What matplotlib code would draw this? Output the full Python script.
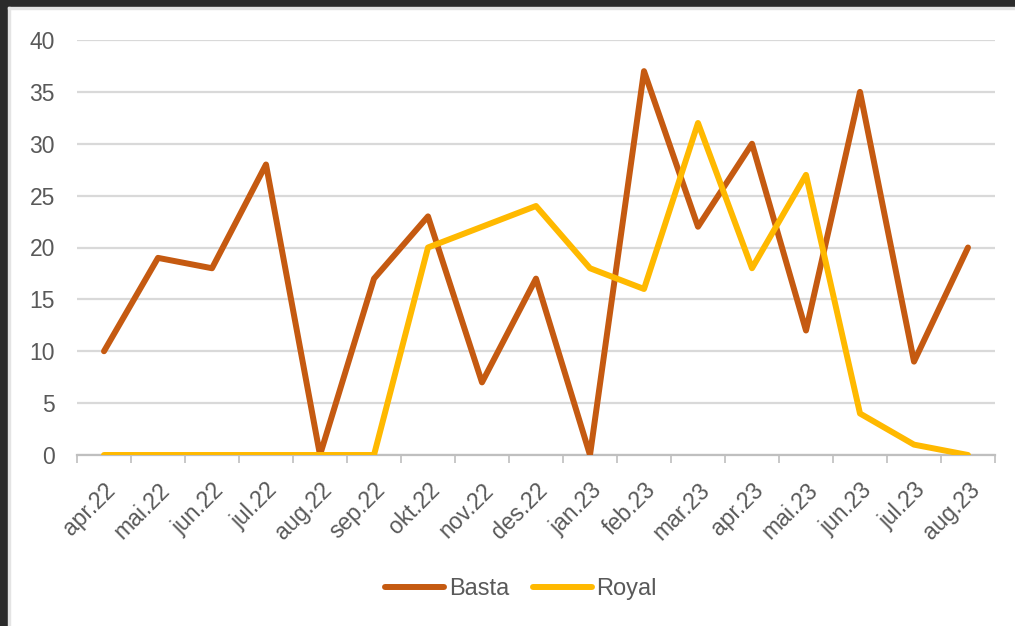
import matplotlib.pyplot as plt
import matplotlib.patches as patches
import numpy as np

plt.rcParams['font.family'] = ['Liberation Sans', 'DejaVu Sans']

months = ['apr.22', 'mai.22', 'jun.22', 'jul.22', 'aug.22', 'sep.22', 'okt.22', 'nov.22',
          'des.22', 'jan.23', 'feb.23', 'mar.23', 'apr.23', 'mai.23', 'jun.23', 'jul.23', 'aug.23']
basta = [10, 19, 18, 28, 0, 17, 23, 7, 17, 0, 37, 22, 30, 12, 35, 9, 20]
royal = [0, 0, 0, 0, 0, 0, 20, 22, 24, 18, 16, 32, 18, 27, 4, 1, 0]

text_col = '#595959'
fig = plt.figure(figsize=(10.15, 6.26), dpi=100)

# dark screenshot frame on top and left, with a thin light edge inside it
fig.patches.append(patches.Rectangle((0, 1 - 7 / 626), 1, 7 / 626, transform=fig.transFigure,
                                     color='#2b2b2b', zorder=0))
fig.patches.append(patches.Rectangle((0, 0), 8 / 1015, 1, transform=fig.transFigure,
                                     color='#2b2b2b', zorder=0))
fig.patches.append(patches.Rectangle((8 / 1015, 0), 2 / 1015, 1 - 7 / 626, transform=fig.transFigure,
                                     color='#e4e4e4', zorder=0))
fig.patches.append(patches.Rectangle((8 / 1015, 1 - 9 / 626), 1, 2 / 626, transform=fig.transFigure,
                                     color='#e4e4e4', zorder=0))

ax = fig.add_axes([77 / 1015, 1 - 455 / 626, (995 - 77) / 1015, (455 - 40) / 626])
x = np.arange(len(months))
ax.plot(x, basta, color='#C55A11', lw=4.3, label='Basta', solid_joinstyle='round',
        solid_capstyle='round', zorder=3)
ax.plot(x, royal, color='#FFB900', lw=4.3, label='Royal', solid_joinstyle='round',
        solid_capstyle='round', zorder=3)

ax.set_xlim(-0.5, len(months) - 0.5)
ax.set_ylim(0, 40)
ax.set_yticks(range(0, 41, 5))
ax.yaxis.grid(True, color='#D9D9D9', lw=1.6)
ax.set_axisbelow(True)
for s in ['top', 'right', 'left']:
    ax.spines[s].set_visible(False)
ax.spines['bottom'].set_color('#BFBFBF')
ax.spines['bottom'].set_linewidth(1.6)

ax.set_xticks(x)
ax.set_xticklabels(months, rotation=45, ha='right', rotation_mode='anchor')
ax.set_xticks(np.arange(-0.5, len(months)), minor=True)
ax.tick_params(axis='x', which='major', length=0, pad=17, labelsize=16.5, labelcolor=text_col)
ax.tick_params(axis='x', which='minor', length=6, width=1.2, color='#BFBFBF')
ax.tick_params(axis='y', length=0, pad=16, labelsize=16.5, labelcolor=text_col)

fig.legend(loc='center', bbox_to_anchor=(521 / 1015, 1 - 589 / 626), ncol=2, frameon=False,
           fontsize=17, labelcolor=text_col, handlelength=2.5, columnspacing=1.0,
           handletextpad=0.2)

fig.savefig('out.png', dpi=100)
